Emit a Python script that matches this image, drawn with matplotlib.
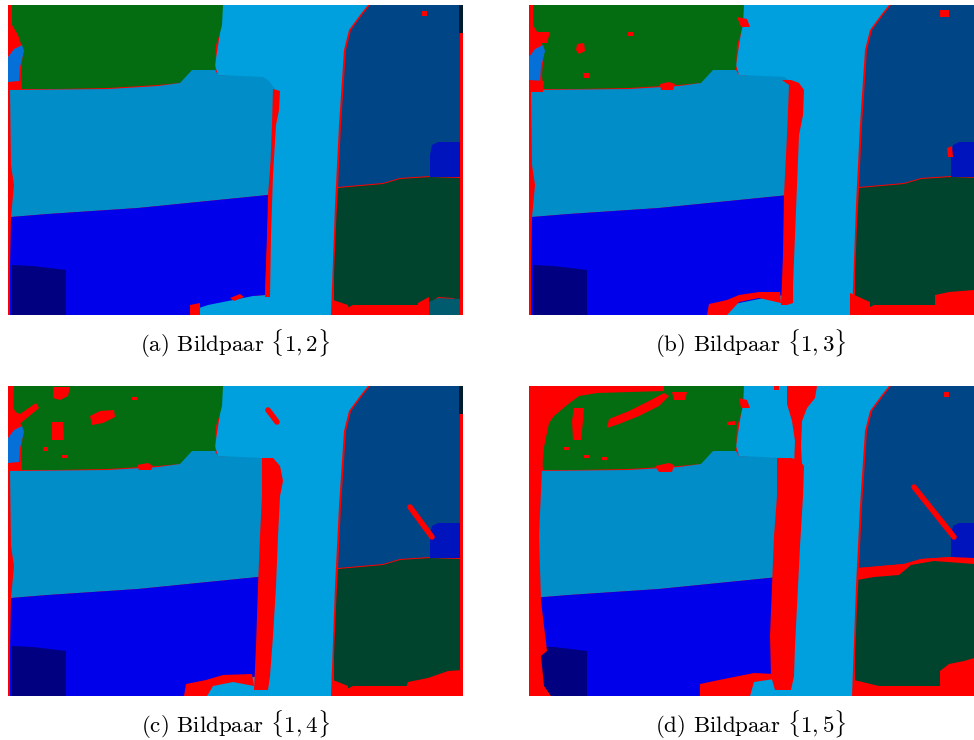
import matplotlib
matplotlib.use("Agg")
import matplotlib.pyplot as plt

plt.rcParams['font.family'] = ['cmr10', 'DejaVu Serif']
plt.rcParams['mathtext.fontset'] = 'cm'
plt.rcParams['axes.unicode_minus'] = False

# segment polygons in image pixels (x right, y down), image is 455 x 310
road = [(212, 0), (360, 0), (352, 10), (341, 25), (336, 45), (331, 120), (327, 200),
        (323, 310), (190, 310), (190, 300), (225, 292), (258, 290), (262, 200),
        (266, 85), (258, 75), (210, 70), (207, 60), (212, 28)]
field_green = [(4, 0), (215, 0), (214, 20), (212, 28), (208, 40), (207, 65), (184, 65),
               (182, 72), (172, 78), (150, 80), (100, 83), (50, 84), (14, 84), (13, 70),
               (15, 45), (10, 30), (4, 20)]
patch_light = [(0, 52), (6, 44), (14, 40), (16, 46), (12, 62), (11, 76), (0, 77)]
field_mid = [(2, 85), (100, 84), (150, 81), (172, 78), (184, 65), (207, 65), (210, 70),
             (255, 72), (261, 76), (267, 84), (266, 130), (262, 165), (260, 190),
             (210, 195), (130, 203), (40, 209), (3, 212), (6, 180), (3, 160)]
field_blue = [(3, 212), (40, 209), (130, 203), (210, 195), (260, 190), (259, 240),
              (257, 290), (245, 291), (230, 294), (200, 300), (185, 305), (182, 310),
              (2, 310), (2, 260)]
field_navy = [(4, 260), (25, 261), (58, 265), (58, 310), (4, 310)]
roof_dark = [(362, 0), (451, 0), (451, 28), (452, 28), (452, 172), (422, 171), (392, 173),
             (375, 178), (330, 182), (333, 120), (338, 45), (343, 25), (354, 10)]
corner_black = [(451, 0), (455, 0), (455, 28), (451, 28)]
roof_small = [(424, 140), (430, 137), (452, 137), (452, 172), (422, 172), (422, 150)]
lawn_dark = [(330, 183), (375, 179), (392, 174), (422, 172), (452, 173), (452, 296),
             (445, 293), (430, 292), (420, 300), (400, 300), (345, 300), (335, 305),
             (332, 310), (326, 310), (326, 270), (328, 220)]
patch_teal = [(421, 297), (430, 293), (452, 294), (452, 310), (421, 310)]

base_order = [road, field_green, patch_light, field_mid, field_blue, field_navy,
              roof_dark, corner_black, roof_small, lawn_dark, patch_teal]
base_colors = ['#009fdd', '#056d11', '#0670d9', '#008dc8', '#0000ea', '#000080',
               '#004687', '#001b2b', '#0014be', '#00442e', '#005b6f']

# error (red) regions, panel a
a_road_edge = [(265, 84), (272, 86), (271, 105), (268, 120), (265, 170), (263, 230),
               (262, 292), (257, 292), (259, 230), (262, 170), (264, 120)]
a_bottom = [(182, 310), (182, 300), (192, 298), (192, 310)]
a_bottom2 = [(222, 293), (232, 289), (236, 292), (226, 296)]
a_lawn_bl = [(325, 295), (340, 300), (342, 310), (325, 310)]
a_lawn_br = [(410, 298), (421, 292), (421, 310), (410, 310)]
a_dot = [(414, 6), (419, 6), (419, 11), (414, 11)]

# panel b
b_road_edge = [(253, 75), (262, 75), (270, 78), (275, 85), (274, 110), (270, 130),
               (268, 180), (266, 230), (264, 280), (264, 298), (258, 300), (252, 300),
               (254, 250), (255, 190), (258, 130), (260, 80)]
b_green1 = [(48, 39), (55, 38), (56, 46), (50, 49), (47, 45)]
b_green2 = [(99, 27), (104, 27), (104, 31), (99, 31)]
b_green3 = [(54, 68), (60, 68), (61, 73), (55, 73)]
b_green4 = [(131, 79), (140, 77), (146, 79), (144, 85), (132, 85)]
b_left1 = [(0, 27), (21, 27), (18, 38), (10, 38), (0, 45)]
b_left2 = [(0, 75), (15, 76), (14, 87), (0, 87)]
b_roadtop = [(208, 12), (218, 14), (221, 22), (212, 22)]
b_bottom = [(178, 310), (180, 299), (198, 295), (210, 290), (230, 287), (251, 287),
            (252, 298), (230, 293), (210, 297), (198, 310)]
b_lawn_bl = [(321, 288), (341, 297), (341, 310), (321, 310)]
b_lawn_br = [(406, 290), (420, 287), (445, 285), (445, 310), (406, 310)]
b_dot = [(411, 5), (420, 5), (420, 12), (411, 12)]
b_roof = [(418, 143), (423, 141), (424, 152), (419, 152)]

# panel c
c_road_edge = [(254, 72), (265, 72), (272, 80), (275, 95), (272, 110), (270, 150),
               (268, 200), (265, 250), (262, 290), (260, 304), (246, 304), (248, 260),
               (250, 200), (252, 150), (254, 110)]
c_left = [(0, 0), (6, 0), (5, 25), (12, 28), (28, 17), (31, 22), (14, 36), (6, 42),
          (0, 42)]
c_green1 = [(44, 36), (55, 36), (56, 54), (44, 54)]
c_green2 = [(82, 30), (92, 25), (106, 24), (107, 31), (95, 37), (84, 39)]
c_green3 = [(45, 1), (62, 1), (60, 10), (52, 14), (45, 12)]
c_green4 = [(124, 11), (129, 11), (129, 14), (124, 14)]
c_green5 = [(35, 61), (40, 61), (40, 65), (35, 65)]
c_green6 = [(54, 69), (60, 69), (60, 72), (54, 72)]
c_green7 = [(129, 79), (140, 77), (145, 80), (143, 84), (131, 84)]
c_bottom = [(176, 310), (178, 298), (198, 294), (215, 289), (244, 288), (246, 300),
            (225, 296), (205, 300), (199, 310)]
c_lawn_bl = [(325, 294), (340, 300), (340, 310), (325, 310)]
c_lawn_br = [(395, 310), (400, 296), (420, 292), (440, 285), (455, 284), (455, 310)]
c_roof_line = [(402, 121), (424, 151)]
c_road_line = [(260, 24), (269, 36)]

# panel d
d_left_top = [(0, 0), (68, 0), (68, 7), (50, 10), (38, 19), (25, 30), (20, 37),
              (15, 61), (13, 82), (0, 82)]
d_top = [(68, 0), (135, 0), (135, 5), (68, 7)]
d_streak = [(78, 42), (80, 33), (100, 25), (120, 15), (135, 7), (140, 10), (130, 20),
            (110, 30), (90, 38)]
d_green1 = [(45, 22), (55, 22), (54, 35), (52, 54), (44, 54), (43, 35)]
d_green2 = [(143, 6), (158, 6), (156, 14), (145, 14)]
d_green3 = [(35, 61), (40, 61), (40, 64), (35, 64)]
d_green4 = [(55, 69), (60, 69), (60, 72), (55, 72)]
d_green5 = [(73, 71), (78, 71), (78, 74), (73, 74)]
d_green6 = [(126, 80), (140, 77), (145, 79), (143, 86), (130, 86)]
d_green7 = [(198, 36), (206, 35), (206, 39), (198, 39)]
d_roadtop1 = [(245, 0), (250, 0), (250, 4), (245, 4)]
d_roadtop2 = [(258, 0), (288, 0), (286, 12), (278, 22), (273, 35), (272, 60), (273, 80),
              (265, 80), (266, 55), (263, 35), (258, 18)]
d_roadtop3 = [(210, 12), (218, 14), (221, 22), (212, 22)]
d_road_edge = [(248, 72), (262, 72), (270, 74), (275, 80), (274, 110), (271, 160),
               (268, 220), (266, 260), (265, 290), (262, 304), (246, 304), (242, 290),
               (241, 250), (243, 200), (245, 150), (248, 110)]
d_left = [(0, 82), (13, 82), (10, 150), (12, 215), (15, 240), (18, 265), (12, 270),
          (15, 300), (22, 310), (0, 310)]
d_bottom = [(171, 310), (171, 298), (190, 294), (210, 290), (225, 287), (245, 288),
            (245, 293), (225, 296), (221, 310)]
d_roof_lawn = [(328, 182), (375, 178), (392, 173), (422, 171), (445, 172), (445, 178),
               (405, 175), (382, 179), (370, 189), (345, 191), (328, 194)]
d_lawn_bl = [(325, 294), (350, 300), (375, 302), (376, 310), (325, 310)]
d_lawn_br = [(411, 310), (411, 285), (420, 278), (435, 275), (445, 272), (445, 310)]
d_dot = [(415, 6), (420, 6), (420, 11), (415, 11)]
d_roof_line = [(385, 101), (425, 151)]

red_a = [a_road_edge, a_bottom, a_bottom2, a_lawn_bl, a_lawn_br, a_dot]
red_b = [b_road_edge, b_green1, b_green2, b_green3, b_green4, b_left1, b_left2,
         b_roadtop, b_bottom, b_lawn_bl, b_lawn_br, b_dot, b_roof]
red_c = [c_road_edge, c_left, c_green1, c_green2, c_green3, c_green4, c_green5,
         c_green6, c_green7, c_bottom, c_lawn_bl, c_lawn_br]
red_d = [d_left_top, d_top, d_streak, d_green1, d_green2, d_green3, d_green4,
         d_green5, d_green6, d_green7, d_roadtop1, d_roadtop2, d_roadtop3,
         d_road_edge, d_left, d_bottom, d_roof_lawn, d_lawn_bl, d_lawn_br, d_dot]
lines_c = [c_roof_line, c_road_line]
lines_d = [d_roof_line]

captions = [r'(a) Bildpaar $\{1,2\}$', r'(b) Bildpaar $\{1,3\}$',
            r'(c) Bildpaar $\{1,4\}$', r'(d) Bildpaar $\{1,5\}$']

W, H = 974, 740
fig = plt.figure(figsize=(W / 100, H / 100), dpi=100)

# panel boxes in pixels: left, top, width, height
boxes = [(8, 5, 455, 310), (529, 5, 445, 310), (8, 386, 455, 310), (529, 386, 445, 310)]
reds = [red_a, red_b, red_c, red_d]
lines = [[], [], lines_c, lines_d]
cap_pos = [(235, 352), (751, 352), (235, 733), (751, 733)]

for i in range(4):
    l, t, w, h = boxes[i]
    ax = fig.add_axes([l / W, 1 - (t + h) / H, w / W, h / H])
    ax.set_facecolor('#ff0000')
    for poly, col in zip(base_order, base_colors):
        xs, ys = zip(*poly)
        ax.fill(xs, ys, color=col, lw=0)
    for poly in reds[i]:
        xs, ys = zip(*poly)
        ax.fill(xs, ys, color='#ff0000', lw=0)
    for ln in lines[i]:
        xs, ys = zip(*ln)
        ax.plot(xs, ys, color='#ff0000', lw=4, solid_capstyle='round')
    ax.set_xlim(0, w)
    ax.set_ylim(310, 0)
    ax.set_xticks([])
    ax.set_yticks([])
    for s in ax.spines.values():
        s.set_visible(False)
    cx, cy = cap_pos[i]
    fig.text(cx / W, 1 - cy / H, captions[i], ha='center', va='baseline', fontsize=16.5)

fig.savefig('out.png', dpi=100)
